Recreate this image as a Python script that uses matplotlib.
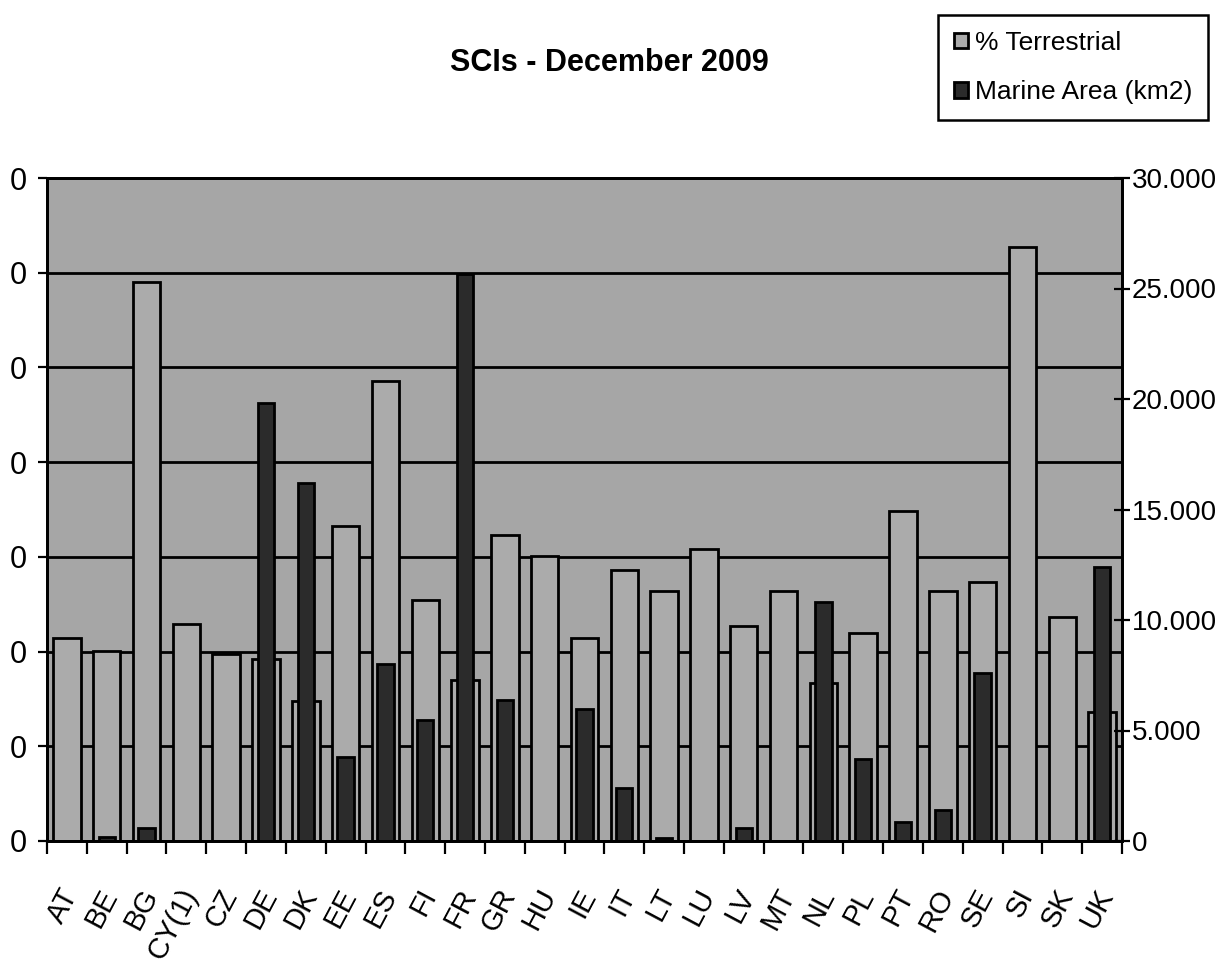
import numpy as np
import matplotlib
matplotlib.use("Agg")
import matplotlib.pyplot as plt
from matplotlib.transforms import ScaledTranslation

plt.rcParams['font.family'] = ['Liberation Sans', 'DejaVu Sans']

countries = ['AT', 'BE', 'BG', 'CY(1)', 'CZ', 'DE', 'DK', 'EE', 'ES', 'FI', 'FR', 'GR', 'HU', 'IE',
             'IT', 'LT', 'LU', 'LV', 'MT', 'NL', 'PL', 'PT', 'RO', 'SE', 'SI', 'SK', 'UK']

# % of terrestrial area (left axis)
terrestrial_pct = [21.4, 20.1, 59.0, 22.9, 19.7, 19.2, 14.8, 33.3, 48.6, 25.4, 17.0, 32.3, 30.1, 21.4,
                   28.6, 26.4, 30.8, 22.7, 26.4, 16.7, 22.0, 34.8, 26.4, 27.3, 62.7, 23.6, 13.6]

# marine area in km2 (right axis)
marine_km2 = [0, 200, 600, 0, 0, 19800, 16200, 3800, 8000, 5470, 25650, 6360, 0, 5970,
              2380, 150, 0, 610, 0, 10820, 3700, 880, 1420, 7600, 0, 0, 12400]

left_ticks = [0, 10, 20, 30, 40, 50, 60, 70]
# the left scale shows only a trailing zero at every step
left_labels = ['0'] * len(left_ticks)
right_ticks = [0, 5000, 10000, 15000, 20000, 25000, 30000]

fig = plt.figure(figsize=(12.24, 9.76), dpi=100)
ax = fig.add_axes([47 / 1224, 1 - 841 / 976, (1122 - 47) / 1224, (841 - 178) / 976])
ax2 = ax.twinx()

ax.set_facecolor('#a6a6a6')
x = np.arange(len(countries))

ax.bar(x, terrestrial_pct, width=0.69, color='#ababab', edgecolor='black',
       linewidth=2, label='% Terrestrial', zorder=2)
ax2.bar(x, marine_km2, width=0.41, color='#2b2b2b', edgecolor='black',
        linewidth=2, label='Marine Area (km2)', zorder=2)

ax.set_xlim(-0.5, len(countries) - 0.5)
ax.set_ylim(left_ticks[0], left_ticks[-1])
ax2.set_ylim(right_ticks[0], right_ticks[-1])

# black horizontal grid behind the bars
ax.set_axisbelow(True)
ax.yaxis.grid(True, color='black', linewidth=2)

for a in (ax, ax2):
    for sp in a.spines.values():
        sp.set_color('black')
        sp.set_linewidth(2)

# category labels in the middle, tick marks on the boundaries
ax.set_xticks(x)
ax.set_xticklabels(countries, rotation=62, ha='right', va='top', rotation_mode='anchor')
ax.set_xticks(np.arange(-0.5, len(countries), 1), minor=True)
ax.tick_params(axis='x', which='major', length=0, pad=31, labelsize=21)
ax.tick_params(axis='x', which='minor', length=9.5, width=1.6, direction='out')
shift = ScaledTranslation(-0.08, 0, fig.dpi_scale_trans)
for lbl in ax.get_xticklabels():
    lbl.set_transform(lbl.get_transform() + shift)

ax.set_yticks(left_ticks)
ax.set_yticklabels(left_labels)
ax.tick_params(axis='y', direction='out', length=6.5, width=1.6, pad=8, labelsize=22)

ax2.set_yticks(right_ticks)
ax2.set_yticklabels([f"{v:,}".replace(",", ".") for v in right_ticks])
ax2.tick_params(axis='y', direction='inout', length=12, width=1.6, pad=1, labelsize=20)

fig.text(0.4976, 0.9355, 'SCIs - December 2009', ha='center', va='center',
         fontsize=22, fontweight='bold')

h1, l1 = ax.get_legend_handles_labels()
h2, l2 = ax2.get_legend_handles_labels()
leg = fig.legend(h1 + h2, l1 + l2, loc='upper right',
                 bbox_to_anchor=(1208 / 1224, 1 - 15 / 976), bbox_transform=fig.transFigure,
                 fontsize=19, frameon=True, fancybox=False, edgecolor='black', framealpha=1,
                 borderpad=0.6, labelspacing=0.95, handlelength=0.55, handleheight=0.55,
                 handletextpad=0.25, borderaxespad=0)
leg.get_frame().set_linewidth(1.8)

fig.savefig('out.png', dpi=100)
